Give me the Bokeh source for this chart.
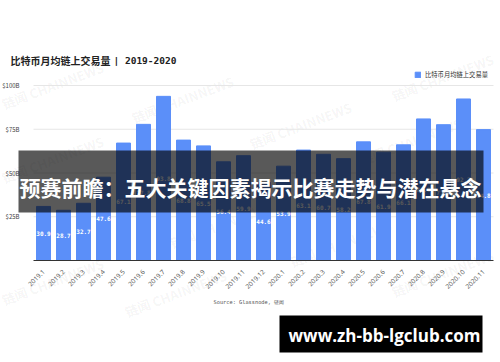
import math
from bokeh.plotting import figure
from bokeh.models import (Range1d, FixedTicker, ColumnDataSource, Label,
                          BoxAnnotation, Legend, LegendItem)
from bokeh.core.properties import value
from bokeh.embed import file_html
from bokeh.resources import INLINE

# ---------------- data ----------------
months = ["2019.1", "2019.2", "2019.3", "2019.4", "2019.5", "2019.6", "2019.7", "2019.8",
          "2019.9", "2019.10", "2019.11", "2019.12", "2020.1", "2020.2", "2020.3", "2020.4",
          "2020.5", "2020.6", "2020.7", "2020.8", "2020.9", "2020.10", "2020.11"]
volume = [30.9, 28.7, 32.7, 47.6, 67.1, 77.8, 93.8, 68.8, 65.5, 56.4, 59.9, 44.6,
          53.9, 63.1, 60.7, 58.2, 67.8, 61.9, 66.1, 80.9, 77.6, 92.3, 74.8]
y_ticks = [0, 25, 50, 75, 100]
y_tick_labels = ["", "$25B", "$50B", "$75B", "$100B"]
series_name = "比特币月均链上交易量"
title_cn = "比特币月均链上交易量"
title_years = "| 2019-2020"
source_note = "Source: Glassnode, 链闻"
banner_text = "预赛前瞻：五大关键因素揭示比赛走势与潜在悬念"
site_text = "www.zh-bb-lgclub.com"
watermark = "链闻 CHAINNEWS"

BLUE = "#5B8FF9"
CJK = "Noto Sans CJK SC"
MONO = "DejaVu Sans Mono"

W, H = 500, 362
# layout: first bar centre at 43px, 20px per month; y=0 at 260px, 1.75px per $1B
X0, DXP = 43, 20.0
Y0, DYP = 260, 1.75
def dx(cx):
    return (cx - X0) / DXP
def dy(cy):
    return (Y0 - cy) / DYP

idx = list(range(len(months)))
src = ColumnDataSource(dict(
    i=idx,
    volume=volume,
    mid=[v / 2 for v in volume],
    label=[f"{v:.1f}" for v in volume],
))

p = figure(width=W, height=H, x_range=Range1d(dx(0), dx(W)), y_range=Range1d(dy(H), dy(0)),
           output_backend="svg", toolbar_location=None,
           min_border_left=0, min_border_right=0, min_border_top=0, min_border_bottom=0)
p.outline_line_color = None
p.background_fill_color = "white"
p.border_fill_color = "white"
p.xgrid.visible = False
p.ygrid.visible = False

# horizontal gridlines at the y ticks (except the baseline)
grid_y = [t for t in y_ticks if t != 0]
p.segment(x0=[-0.5] * len(grid_y), x1=[len(months) - 0.5] * len(grid_y),
          y0=grid_y, y1=grid_y, line_color="#e6e6e6", line_width=1)

# faint watermarks (under the bars)
wm_pos = [(2, 104), (132, 118), (250, 144), (392, 96), (360, 160), (2, 178),
          (170, 243), (290, 262), (392, 292), (2, 300), (125, 312)]
for (cx, cy) in wm_pos:
    p.add_layout(Label(x=dx(cx), y=dy(cy), text=watermark, angle=0.36, text_font=CJK,
                       text_font_style="bold", text_font_size="13px", text_color="#000000",
                       text_alpha=0.05, text_baseline="middle", text_align="left",
                       level="underlay"))

bars = p.vbar(x="i", top="volume", width=0.7, source=src, color=BLUE)

p.text(x="i", y="mid", text="label", source=src, text_color="white",
       text_font=value(MONO), text_font_style="bold", text_font_size="6px",
       text_align="center", text_baseline="middle")

# axes (drawn inside the full-canvas frame)
p.yaxis.fixed_location = -0.5
p.yaxis.ticker = FixedTicker(ticks=y_ticks)
p.yaxis.major_label_overrides = {t: l for t, l in zip(y_ticks, y_tick_labels)}
p.yaxis.axis_line_color = None
p.yaxis.major_tick_line_color = None
p.yaxis.minor_tick_line_color = None
p.yaxis.major_label_standoff = 8
p.yaxis.major_label_text_font = CJK
p.yaxis.major_label_text_font_size = "6px"
p.yaxis.major_label_text_color = "#444444"

p.xaxis.fixed_location = 0
p.xaxis.bounds = (-0.5, len(months) - 0.5)
p.xaxis.ticker = FixedTicker(ticks=idx)
p.xaxis.major_label_overrides = {i: m for i, m in zip(idx, months)}
p.xaxis.axis_line_color = "#333333"
p.xaxis.major_tick_line_color = None
p.xaxis.minor_tick_line_color = None
p.xaxis.major_label_orientation = math.pi / 4
p.xaxis.major_label_standoff = 4
p.xaxis.major_label_text_font = "Noto Sans"
p.xaxis.major_label_text_font_size = "6.5px"
p.xaxis.major_label_text_color = "#595959"

# title
p.add_layout(Label(x=dx(10), y=dy(60), text=title_cn,
                   text_font=CJK, text_font_style="bold", text_font_size="10px",
                   text_color="#222222", text_baseline="middle"))
p.add_layout(Label(x=dx(113), y=dy(60), text=title_years,
                   text_font=MONO, text_font_style="bold", text_font_size="9.5px",
                   text_color="#222222", text_baseline="middle"))

# legend (frame covers the whole canvas, so screen coords are canvas coords, y up)
legend = Legend(items=[LegendItem(label=series_name, renderers=[bars])],
                location=(414, H - 79), glyph_width=7, glyph_height=7,
                label_text_font=CJK, label_text_font_size="6.3px", label_text_color="#333333",
                label_height=7, label_standoff=4, padding=0, spacing=0, margin=0,
                border_line_color=None, background_fill_alpha=0)
p.add_layout(legend)

# source note
p.add_layout(Label(x=dx(213), y=dy(301), text=source_note,
                   text_font=MONO, text_font_size="5.3px", text_color="#555555",
                   text_baseline="middle"))

# overlay banner
p.add_layout(BoxAnnotation(left=dx(18), right=dx(483), top=dy(150), bottom=dy(212),
                           fill_color="black", fill_alpha=0.65, line_color=None,
                           level="overlay"))
p.add_layout(Label(x=dx(250), y=dy(186), text=banner_text,
                   text_font=CJK, text_font_style="bold", text_font_size="21px",
                   text_color="white", text_align="center", text_baseline="middle",
                   level="overlay"))

# bottom site banner
p.add_layout(BoxAnnotation(left=dx(279), right=dx(482), top=dy(315), bottom=dy(352),
                           fill_color="black", fill_alpha=1.0, line_color=None,
                           level="overlay"))
p.add_layout(Label(x=dx(384), y=dy(335), text=site_text,
                   text_font="Open Sans", text_font_style="bold", text_font_size="17px",
                   text_color="white", text_align="center", text_baseline="middle",
                   level="overlay"))

open("out.html", "w").write(file_html(p, INLINE))
